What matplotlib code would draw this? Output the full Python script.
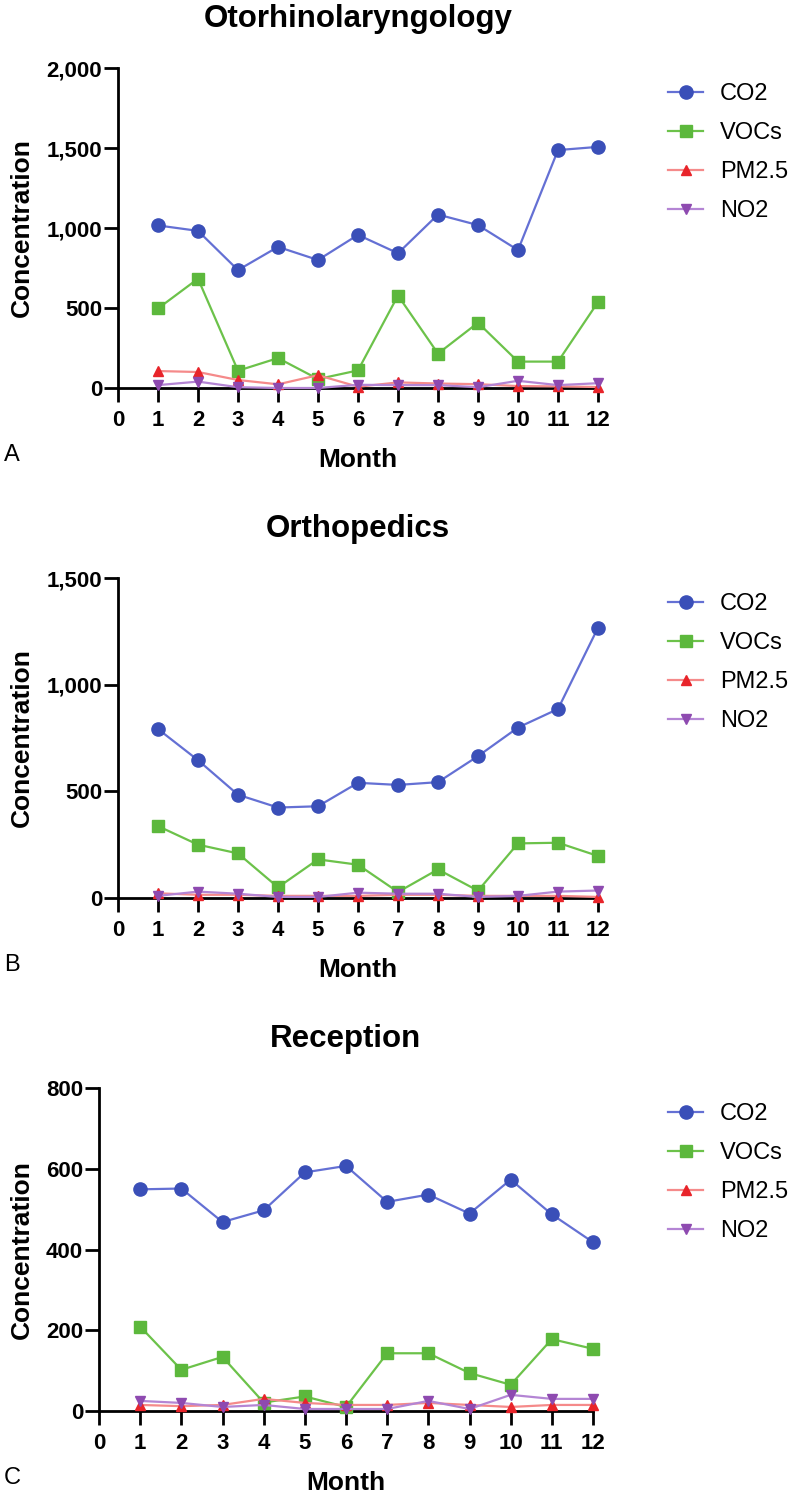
import matplotlib
matplotlib.use("Agg")
import matplotlib.pyplot as plt
from matplotlib.ticker import FuncFormatter

plt.rcParams['font.family'] = ['Liberation Sans', 'DejaVu Sans']

months = [1, 2, 3, 4, 5, 6, 7, 8, 9, 10, 11, 12]
series_names = ["CO2", "VOCs", "PM2.5", "NO2"]

# Panel A: Otorhinolaryngology
ent_co2 = [1016, 982, 737, 882, 800, 957, 842, 1084, 1018, 862, 1487, 1507]
ent_vocs = [497, 683, 108, 187, 56, 110, 578, 215, 408, 165, 165, 537]
ent_pm25 = [106, 100, 50, 23, 80, 8, 35, 28, 24, 12, 10, 6]
ent_no2 = [18, 40, 5, 0, 0, 20, 18, 18, 5, 45, 18, 30]

# Panel B: Orthopedics
ort_co2 = [792, 646, 484, 424, 430, 540, 530, 543, 665, 799, 886, 1267]
ort_vocs = [337, 250, 209, 50, 181, 156, 28, 134, 34, 256, 259, 197]
ort_pm25 = [22, 15, 15, 10, 10, 10, 15, 15, 10, 10, 10, 5]
ort_no2 = [10, 30, 20, 5, 5, 25, 20, 20, 5, 10, 30, 35]

# Panel C: Reception
rec_co2 = [549, 551, 468, 497, 591, 607, 518, 536, 489, 573, 487, 418]
rec_vocs = [209, 102, 134, 21, 36, 10, 143, 143, 94, 65, 178, 154]
rec_pm25 = [15, 12, 15, 30, 20, 15, 15, 20, 15, 10, 15, 15]
rec_no2 = [25, 20, 10, 15, 5, 5, 5, 25, 5, 40, 30, 30]

titles = ["Otorhinolaryngology", "Orthopedics", "Reception"]
letters = ["A", "B", "C"]
ymaxes = [2000, 1500, 800]
ysteps = [500, 500, 200]
xticks = list(range(0, 13))

panels = [
    (ent_co2, ent_vocs, ent_pm25, ent_no2),
    (ort_co2, ort_vocs, ort_pm25, ort_no2),
    (rec_co2, rec_vocs, rec_pm25, rec_no2),
]

W, H = 800, 1502
fig = plt.figure(figsize=(W / 100, H / 100), dpi=100)

# (left, top, right, bottom) in pixels
boxes = [(118, 68, 598, 388), (118, 578, 598, 898), (99, 1088, 593, 1411)]

styles = [
    dict(marker='o', color='#6470d4', mfc='#3a4fb8', mec='#3a4fb8', ms=9.5),
    dict(marker='s', color='#6cc24a', mfc='#5cb83c', mec='#5cb83c', ms=8.5),
    dict(marker='^', color='#f58a8a', mfc='#e8242a', mec='#e8242a', ms=7.5),
    dict(marker='v', color='#b485d4', mfc='#8e4ab0', mec='#8e4ab0', ms=7.5),
]

fmt = FuncFormatter(lambda v, p: f"{int(v):,}")

for i, (data, box) in enumerate(zip(panels, boxes)):
    l, t, r, b = box
    ax = fig.add_axes([l / W, 1 - b / H, (r - l) / W, (b - t) / H])
    for vals, name, st in zip(data, series_names, styles):
        ax.plot(months, vals, label=name, lw=1.6, clip_on=False, zorder=3, **st)
    ax.set_xlim(0, 12)
    ax.set_ylim(0, ymaxes[i])
    ax.set_xticks(xticks)
    ax.set_yticks(list(range(0, ymaxes[i] + 1, ysteps[i])))
    ax.yaxis.set_major_formatter(fmt)
    for s in ['top', 'right']:
        ax.spines[s].set_visible(False)
    for s in ['left', 'bottom']:
        ax.spines[s].set_linewidth(2.0)
        ax.spines[s].set_zorder(2.5)
    ax.tick_params(axis='both', length=10, width=2.0, direction='out')
    ax.tick_params(axis='x', pad=6)
    ax.tick_params(axis='y', pad=1.5)
    for lab in ax.get_xticklabels() + ax.get_yticklabels():
        lab.set_fontweight('bold')
        lab.set_fontsize(16)
    cx = (l + r) / 2
    fig.text(cx / W, 1 - (t - 49) / H, titles[i], ha='center', va='center',
             fontsize=22.5, fontweight='bold')
    fig.text(cx / W, 1 - (b + 72) / H, "Month", ha='center', va='center',
             fontsize=19, fontweight='bold')
    fig.text(22 / W, 1 - ((t + b) / 2) / H, "Concentration", ha='center', va='center',
             rotation=90, fontsize=19, fontweight='bold')
    fig.text(4 / W, 1 - (b + 67) / H, letters[i], ha='left', va='center', fontsize=17)
    ax.legend(loc='upper left', bbox_to_anchor=(668 / W, 1 - (t + 15) / H),
              bbox_transform=fig.transFigure, frameon=False, fontsize=17,
              handlelength=1.5, handletextpad=0.7, labelspacing=0.72,
              borderaxespad=0, borderpad=0)

fig.savefig("out.png", dpi=100)
